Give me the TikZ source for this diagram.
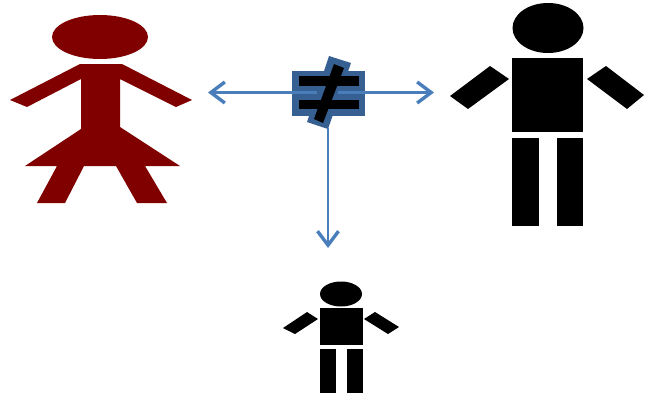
\documentclass[tikz,border=0pt]{standalone}
\usetikzlibrary{arrows.meta}
\definecolor{figred}{HTML}{800000}
\definecolor{boxblue}{HTML}{376092}
\definecolor{arrowblue}{HTML}{4A7EBB}
\tikzset{
  redshape/.style={fill=figred,draw=none},
  blackshape/.style={fill=black,draw=none},
  boxshape/.style={fill=boxblue,draw=none},
  link/.style={draw=arrowblue,line width=2.8pt,-{Straight Barb[length=14pt,width=21pt,line width=3.4pt]}}
}
\begin{document}
\begin{tikzpicture}[x=1pt,y=-1pt]
\useasboundingbox (0,0) rectangle (645,399);
% woman
\fill[redshape] (100,37) ellipse [x radius=48,y radius=22];
\fill[redshape] (80,64) -- (122,64) -- (192,100) -- (176,107) -- (120,79) -- (120,127) -- (180,166) -- (145,166) -- (167,203) -- (137,203) -- (116,166) -- (84,166) -- (65,203) -- (37,203) -- (57,166) -- (25,166) -- (81,129) -- (81,79) -- (27,107) -- (10,100) -- cycle;
% large man
\fill[blackshape] (548,28) ellipse [x radius=35.5,y radius=25];
\fill[blackshape] (512,58) rectangle (583,132);
\fill[blackshape] (512,138) rectangle (539,226);
\fill[blackshape] (557,138) rectangle (583,226);
\fill[blackshape] (490,66) -- (509,79) -- (468,109) -- (450,96) -- cycle;
\fill[blackshape] (606,66) -- (644,95) -- (627,109) -- (587,79) -- cycle;
% child
\fill[blackshape] (341,294) ellipse [x radius=21,y radius=12.5];
\fill[blackshape] (320,308) rectangle (363,345);
\fill[blackshape] (320,349) rectangle (336,393);
\fill[blackshape] (347,349) rectangle (363,393);
\fill[blackshape] (307,312) -- (318,319) -- (295,334) -- (283,328) -- cycle;
\fill[blackshape] (375,312) -- (399,327) -- (388,334) -- (364,319) -- cycle;
% not-equal sign
\fill[boxshape] (292,71) rectangle (365,116);
\fill[boxshape] (329,56) -- (351,63) -- (328,129) -- (307,122) -- cycle;
\coordinate (hubL) at (317,92.5);
\coordinate (hubR) at (338,92.5);
\coordinate (hubD) at (328,128);
\coordinate (toWoman) at (208,92.5);
\coordinate (toMan) at (434,92.5);
\coordinate (toChild) at (328,248);
\draw[link] (hubL) -- (toWoman);
\draw[link] (hubR) -- (toMan);
\draw[link] (hubD) -- (toChild);
\fill[blackshape] (299,76) rectangle (359,86);
\fill[blackshape] (299,100) rectangle (359,109);
\fill[blackshape] (334,64) -- (344,68) -- (323,123) -- (314,119) -- cycle;
\end{tikzpicture}
\end{document}
